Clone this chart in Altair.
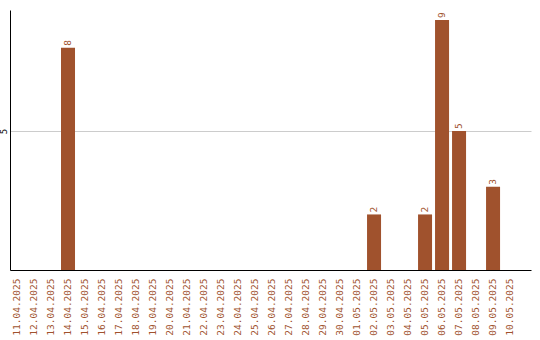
import altair as alt
import pandas as pd

# Daily counts, 11.04.2025 – 10.05.2025
dates = [
    "11.04.2025", "12.04.2025", "13.04.2025", "14.04.2025", "15.04.2025",
    "16.04.2025", "17.04.2025", "18.04.2025", "19.04.2025", "20.04.2025",
    "21.04.2025", "22.04.2025", "23.04.2025", "24.04.2025", "25.04.2025",
    "26.04.2025", "27.04.2025", "28.04.2025", "29.04.2025", "30.04.2025",
    "01.05.2025", "02.05.2025", "03.05.2025", "04.05.2025", "05.05.2025",
    "06.05.2025", "07.05.2025", "08.05.2025", "09.05.2025", "10.05.2025",
]
counts = [
    0, 0, 0, 8, 0,
    0, 0, 0, 0, 0,
    0, 0, 0, 0, 0,
    0, 0, 0, 0, 0,
    0, 2, 0, 0, 2,
    9, 5, 0, 3, 0,
]

BAR = "#A0522D"
FONT = "DejaVu Sans Mono"

df = pd.DataFrame({"date": dates, "count": counts})

x = alt.X(
    "date:N",
    sort=dates,
    scale=alt.Scale(paddingInner=0.176, paddingOuter=0.41, align=0),
    axis=alt.Axis(
        title=None,
        labelAngle=270,
        labelAlign="right",
        labelBaseline="middle",
        labelColor=BAR,
        labelFont=FONT,
        labelFontSize=9.5,
        labelPadding=8,
        ticks=False,
        domainColor="black",
        grid=False,
    ),
)
y = alt.Y(
    "count:Q",
    scale=alt.Scale(domain=[0, 9.36], nice=False, zero=True),
    axis=alt.Axis(
        title=None,
        values=[5],
        labelAngle=270,
        labelAlign="center",
        labelBaseline="bottom",
        labelColor="black",
        labelFont=FONT,
        labelFontSize=9,
        labelPadding=2,
        ticks=False,
        domainColor="black",
        grid=True,
        gridColor="#cccccc",
    ),
)

bars = alt.Chart(df).mark_bar(color=BAR).encode(x=x, y=y)

labels = (
    alt.Chart(df)
    .transform_filter(alt.datum["count"] > 0)
    .mark_text(
        angle=270,
        align="left",
        baseline="middle",
        dx=2,
        color=BAR,
        font=FONT,
        fontSize=9.5,
    )
    .encode(x=x, y=y, text="count:Q")
)

chart = (
    alt.layer(bars, labels)
    .properties(
        width=521,
        height=260,
        background="white",
        autosize=alt.AutoSizeParams(type="none"),
        padding={"left": 10, "top": 10, "right": 9, "bottom": 70},
    )
    .configure_view(strokeWidth=0)
)

chart.save("out.html", embed_options={"renderer": "svg", "actions": False})
